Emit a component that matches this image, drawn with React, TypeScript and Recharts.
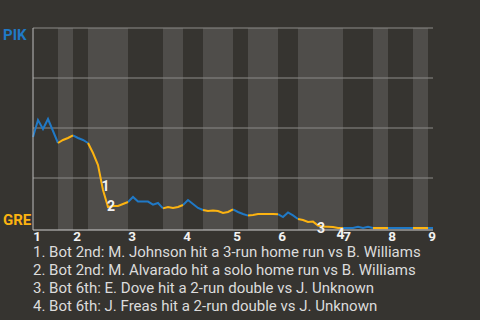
import {
  LineChart,
  Line,
  XAxis,
  YAxis,
  ReferenceArea,
  ReferenceLine,
  ReferenceDot,
} from "recharts"

// PIK win probability (%) after each plate appearance
const winProb = [
  45.5, 54, 49.5, 54.5, 48.5, 42.5, 44, 45, 46.3, 45, 44, 42.5, 37.5, 31.5, 19,
  10.5, 11, 11, 12, 13, 15.5, 13.2, 13.2, 13.2, 11.7, 12.5, 9.8, 10.5, 10, 10.5,
  11.5, 14, 12, 10, 9, 8.5, 8.7, 8.5, 7.5, 8, 9.3, 8, 7, 6.2, 6.5, 7, 7, 7, 7,
  6.9, 5.5, 7.8, 6.3, 4.5, 4, 3, 3.2, 1.2, 0.7, 0.6, 0.5, 0, 0, 0, 0, 0.6, 0,
  0.6, 0, 0, 0, 0, 0, 0, 0, 0, 0, 0, 0, 0, 0,
]

// index of last plate appearance in each half inning (top 1, bot 1, top 2, ...)
const halfEnds = [5, 8, 11, 19, 26, 30, 34, 40, 43, 49, 53, 62, 68, 71, 76, 79, 80]
const inningStarts = [0, 8, 19, 30, 40, 49, 62, 71, 79]
const gridValues = [25, 50, 75, 100]

const annotations = [
  { label: "1", x: 14.5, y: 21 },
  { label: "2", x: 15.6, y: 11 },
  { label: "3", x: 57.6, y: 0 },
  { label: "4", x: 61.5, y: -3 },
]

const notes = [
  "1. Bot 2nd: M. Johnson hit a 3-run home run vs B. Williams",
  "2. Bot 2nd: M. Alvarado hit a solo home run vs B. Williams",
  "3. Bot 6th: E. Dove hit a 2-run double vs J. Unknown",
  "4. Bot 6th: J. Freas hit a 2-run double vs J. Unknown",
]

const BLUE = "#2079c6"
const YELLOW = "#fcb311"
const BG = "#363430"
const BAND = "#4f4d4a"

const halves = halfEnds.map((end, k) => ({
  start: k === 0 ? 0 : halfEnds[k - 1],
  end,
  top: k % 2 === 0,
}))

const data = winProb.map((v, i) => {
  const inTop = halves.some((h) => h.top && i >= h.start && i <= h.end)
  const inBot = halves.some((h) => !h.top && i >= h.start && i <= h.end)
  return { i, pik: inTop ? v : null, gre: inBot ? v : null }
})

const font = "Roboto, sans-serif"

function InningTick({ x, y, payload }: any) {
  const n = inningStarts.indexOf(payload.value) + 1
  return (
    <text x={x + 4} y={y + 9} textAnchor="middle" fill="#f2f2f2" fontSize={13.5} fontWeight={700} fontFamily={font}>
      {n}
    </text>
  )
}

function TeamTick({ y, payload }: any) {
  const pik = payload.value === 100
  return (
    <text x={3} y={pik ? y + 12 : y - 3} textAnchor="start" fill={pik ? BLUE : YELLOW} fontSize={15} fontWeight={700} fontFamily={font}>
      {pik ? "PIK" : "GRE"}
    </text>
  )
}

export default function App() {
  return (
    <div style={{ position: "fixed", left: 0, top: 0, width: 480, height: 320, background: BG, overflow: "hidden" }}>
      <LineChart width={480} height={260} data={data} margin={{ top: 28, right: 47, bottom: 0, left: 0 }}>
        {halves
          .filter((h) => !h.top)
          .map((h) => (
            <ReferenceArea key={h.start} x1={h.start} x2={h.end} y1={-1} y2={100} fill={BAND} fillOpacity={1} stroke="none" />
          ))}
        {gridValues.map((g) => (
          <ReferenceLine key={g} y={g} stroke="#8c8b88" strokeWidth={1} />
        ))}
        <XAxis
          dataKey="i"
          type="number"
          domain={[0, 80]}
          ticks={inningStarts}
          tick={<InningTick />}
          tickLine={false}
          tickSize={0}
          axisLine={{ stroke: "#cfcfcf" }}
          height={30}
        />
        <YAxis
          type="number"
          domain={[-1, 100]}
          ticks={[0, 100]}
          tick={<TeamTick />}
          tickLine={false}
          axisLine={{ stroke: "#bdbdbd" }}
          width={33}
        />
        <Line dataKey="pik" stroke={BLUE} strokeWidth={2} dot={false} isAnimationActive={false} type="linear" />
        <Line dataKey="gre" stroke={YELLOW} strokeWidth={2} dot={false} isAnimationActive={false} type="linear" />
        {annotations.map((a) => (
          <ReferenceDot
            key={a.label}
            x={a.x}
            y={a.y}
            r={0}
            ifOverflow="visible"
            label={{ value: a.label, position: "center", fill: "#f2f2f2", fontSize: 14, fontWeight: 700, fontFamily: font }}
          />
        ))}
      </LineChart>
      <div
        style={{
          position: "absolute",
          left: 33,
          top: 243,
          fontFamily: font,
          fontSize: 15,
          lineHeight: "18px",
          color: "#dcdcdc",
        }}
      >
        {notes.map((n) => (
          <div key={n}>{n}</div>
        ))}
      </div>
    </div>
  )
}
